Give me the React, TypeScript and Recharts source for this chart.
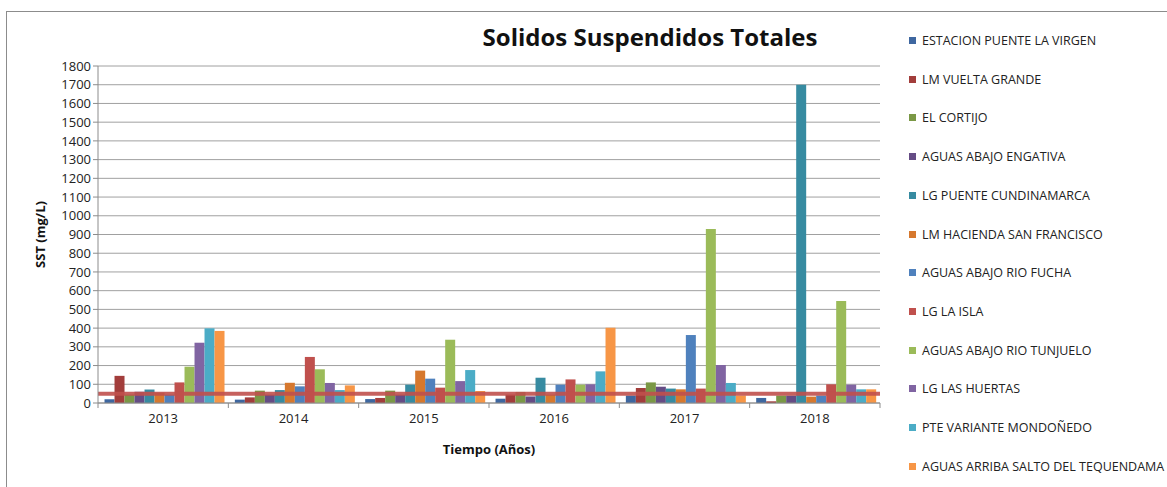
import React from 'react';
import { BarChart, Bar, XAxis, YAxis, CartesianGrid, ReferenceLine } from 'recharts';

const years = ['2013', '2014', '2015', '2016', '2017', '2018'];
const yTicks = [0, 100, 200, 300, 400, 500, 600, 700, 800, 900, 1000, 1100, 1200, 1300, 1400, 1500, 1600, 1700, 1800];
const limite = 50;

const estacionPuenteLaVirgen = [20, 18, 21, 23, 40, 27];
const lmVueltaGrande = [145, 30, 27, 45, 80, 9];
const elCortijo = [45, 66, 66, 59, 110, 40];
const aguasAbajoEngativa = [60, 45, 45, 35, 87, 40];
const lgPuenteCundinamarca = [72, 69, 98, 135, 77, 1700];
const lmHaciendaSanFrancisco = [55, 108, 173, 45, 73, 34];
const aguasAbajoRioFucha = [45, 89, 130, 98, 363, 40];
const lgLaIsla = [110, 246, 82, 126, 77, 100];
const aguasAbajoRioTunjuelo = [194, 180, 338, 98, 930, 545];
const lgLasHuertas = [322, 107, 117, 100, 203, 98];
const pteVarianteMondonedo = [399, 69, 176, 169, 107, 73];
const aguasArribaTequendama = [385, 94, 64, 402, 40, 73];

const series = [
  { key: 'ESTACION PUENTE LA VIRGEN', values: estacionPuenteLaVirgen, color: '#3E67A0' },
  { key: 'LM VUELTA GRANDE', values: lmVueltaGrande, color: '#A23D3B' },
  { key: 'EL CORTIJO', values: elCortijo, color: '#7A9845' },
  { key: 'AGUAS ABAJO ENGATIVA', values: aguasAbajoEngativa, color: '#654C85' },
  { key: 'LG PUENTE CUNDINAMARCA', values: lgPuenteCundinamarca, color: '#378BA1' },
  { key: 'LM HACIENDA SAN FRANCISCO', values: lmHaciendaSanFrancisco, color: '#D6782E' },
  { key: 'AGUAS ABAJO RIO FUCHA', values: aguasAbajoRioFucha, color: '#4F81BD' },
  { key: 'LG LA ISLA', values: lgLaIsla, color: '#C0504D' },
  { key: 'AGUAS ABAJO RIO TUNJUELO', values: aguasAbajoRioTunjuelo, color: '#9BBB59' },
  { key: 'LG LAS HUERTAS', values: lgLasHuertas, color: '#8064A2' },
  { key: 'PTE VARIANTE MONDOÑEDO', values: pteVarianteMondonedo, color: '#4BACC6' },
  { key: 'AGUAS ARRIBA SALTO DEL TEQUENDAMA', values: aguasArribaTequendama, color: '#F79646' },
];

const data = years.map((year, i) => {
  const row: any = { year };
  series.forEach((s) => { row[s.key] = s.values[i]; });
  return row;
});

const W = 1167;
const H = 487;
const plotLeft = 98;
const plotRight = 880;
const plotTop = 66;
const plotBottom = 403;
const yAxisW = 70;
const xAxisH = 55;
const step = (plotRight - plotLeft) / years.length;
const font = '"Open Sans", sans-serif';

const XTick = (props: any) => {
  const { x, y, payload, index } = props;
  return (
    <g>
      <line x1={x - step / 2} x2={x - step / 2} y1={y - 8} y2={y - 3} stroke="#8c8c8c" />
      {index === years.length - 1 && (
        <line x1={x + step / 2} x2={x + step / 2} y1={y - 8} y2={y - 3} stroke="#8c8c8c" />
      )}
      <text x={x} y={y + 12} textAnchor="middle" fontSize={13} fill="#222" fontFamily={font}>
        {payload.value}
      </text>
    </g>
  );
};

export default function App() {
  return (
    <div style={{ position: 'absolute', left: 0, top: 0, width: W, height: H, background: '#fff', overflow: 'hidden', fontFamily: font }}>
      <div style={{ position: 'absolute', left: 6, top: 11, width: 1300, height: 600, border: '1px solid #8c8c8c' }} />
      <div style={{ position: 'absolute', left: 400, width: 500, top: 21, textAlign: 'center', fontSize: 24, fontWeight: 700, color: '#111', lineHeight: '32px' }}>
        Solidos Suspendidos Totales
      </div>
      <BarChart
        width={W}
        height={H}
        data={data}
        margin={{ top: plotTop, right: W - plotRight, bottom: H - plotBottom - xAxisH, left: plotLeft - yAxisW }}
        barCategoryGap="5%"
        barGap={0}
        style={{ position: 'absolute', left: 0, top: 0 }}
      >
        <CartesianGrid vertical={false} stroke="#a0a0a0" />
        <XAxis
          dataKey="year"
          height={xAxisH}
          tickLine={false}
          axisLine={{ stroke: '#8c8c8c' }}
          tick={<XTick />}
          label={{ value: 'Tiempo (Años)', position: 'insideBottom', offset: 4, style: { fontWeight: 700, fontSize: 13, fill: '#111', fontFamily: font } }}
        />
        <YAxis
          width={yAxisW}
          domain={[0, 1800]}
          ticks={yTicks}
          interval={0}
          tickSize={5}
          tickLine={{ stroke: '#8c8c8c' }}
          axisLine={{ stroke: '#8c8c8c' }}
          tick={{ fontSize: 13, fill: '#222', fontFamily: font }}
          label={{ value: 'SST (mg/L)', angle: -90, position: 'insideLeft', offset: 12, style: { textAnchor: 'middle', fontWeight: 700, fontSize: 13, fill: '#111', fontFamily: font } }}
        />
        {series.map((s) => (
          <Bar key={s.key} dataKey={s.key} fill={s.color} isAnimationActive={false} />
        ))}
        <ReferenceLine y={limite} stroke="#C0504D" strokeWidth={4} strokeOpacity={0.9} />
      </BarChart>
      {series.map((s, i) => (
        <div key={s.key} style={{ position: 'absolute', left: 909, top: 33 + i * 38.7, height: 15, display: 'flex', alignItems: 'center', whiteSpace: 'nowrap', fontSize: 12.5, color: '#222' }}>
          <span style={{ display: 'inline-block', width: 7, height: 7, background: s.color, marginRight: 6 }} />
          {s.key}
        </div>
      ))}
    </div>
  );
}
